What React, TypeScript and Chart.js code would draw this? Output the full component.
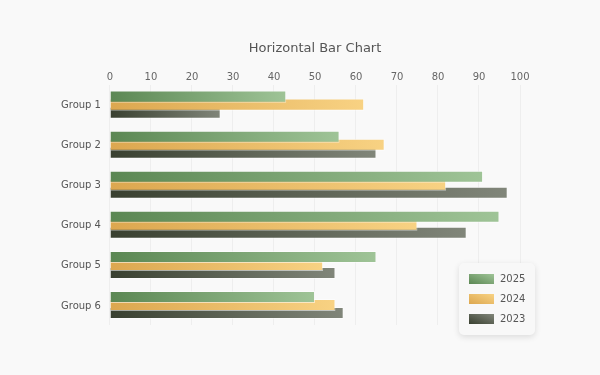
import React, { useEffect, useRef } from "react";
import { Chart, registerables } from "chart.js";

Chart.register(...registerables);

const FONT = "'DejaVu Sans', Verdana, sans-serif";

const categories = ["Group 1", "Group 2", "Group 3", "Group 4", "Group 5", "Group 6"];
const seriesLabels = ["2025", "2024", "2023"];
const values2025 = [43, 56, 91, 95, 65, 50];
const values2024 = [62, 67, 82, 75, 52, 55];
const values2023 = [27, 65, 97, 87, 55, 57];
const xTicksMax = 100;
const xTickStep = 10;
const chartTitle = "Horizontal Bar Chart";

const palettes: [string, string][] = [
  ["#5b8753", "#9fc497"],
  ["#dca74f", "#f8d283"],
  ["#394030", "#81867a"],
];

const CAT_PCT = 0.6;
const BAR_PCT = 1.5;

function makeBg(idx: number) {
  const [dark, light] = palettes[idx];
  return (ctx: any) => {
    try {
      if (ctx.type !== "data") return dark;
      const chart = ctx.chart;
      const xs = chart.scales.x;
      const ys = chart.scales.y;
      if (!xs || !ys) return dark;
      const v = ctx.raw as number;
      const x0 = xs.getPixelForValue(0);
      const x1 = xs.getPixelForValue(v);
      const cy = ys.getPixelForValue(ctx.dataIndex);
      const step = Math.abs(ys.getPixelForValue(1) - ys.getPixelForValue(0));
      const n = 3;
      const pitch = (step * CAT_PCT) / n;
      const c = cy - (step * CAT_PCT) / 2 + pitch * (ctx.datasetIndex + 0.5);
      const h = pitch * BAR_PCT;
      const yTop = c - h / 2;
      const yBot = c + h / 2;
      if (![x0, x1, yTop, yBot].every((q) => Number.isFinite(q))) return dark;
      const g = chart.ctx.createLinearGradient(x0, yBot, x1, yTop);
      g.addColorStop(0, dark);
      g.addColorStop(1, light);
      return g;
    } catch (e) {
      return dark;
    }
  };
}

export default function App() {
  const ref = useRef<HTMLCanvasElement | null>(null);

  useEffect(() => {
    if (!ref.current) return;
    const seriesValues = [values2025, values2024, values2023];
    const chart = new Chart(ref.current, {
      type: "bar",
      data: {
        labels: categories,
        datasets: seriesLabels.map((label, i) => ({
          label,
          data: seriesValues[i],
          backgroundColor: makeBg(i),
          borderColor: "rgba(255,255,255,0.55)",
          borderWidth: 1,
          categoryPercentage: CAT_PCT,
          barPercentage: BAR_PCT,
        })),
      },
      options: {
        indexAxis: "y",
        animation: false,
        responsive: false,
        maintainAspectRatio: false,
        layout: { padding: { left: 52, right: 80, top: 41, bottom: 50 } },
        plugins: {
          legend: { display: false },
          title: { display: false },
          tooltip: { enabled: false },
        },
        scales: {
          x: {
            position: "top",
            min: 0,
            max: xTicksMax,
            ticks: {
              stepSize: xTickStep,
              color: "#666",
              padding: 1,
              font: { family: FONT, size: 10 },
            },
            grid: { color: "#eeeeee", drawTicks: false },
            border: { display: false },
            title: {
              display: true,
              text: chartTitle,
              color: "#555",
              font: { family: FONT, size: 13 },
              padding: { top: 0, bottom: 14 },
            },
          },
          y: {
            grid: { display: false, drawTicks: false },
            border: { display: false },
            ticks: {
              color: "#555",
              padding: 9,
              labelOffset: 1,
              font: { family: FONT, size: 10 },
            },
          },
        },
      },
    });
    return () => chart.destroy();
  }, []);

  return (
    <div
      style={{
        position: "fixed",
        left: 0,
        top: 0,
        width: 600,
        height: 375,
        background: "#f9f9f9",
        fontFamily: FONT,
      }}
    >
      <canvas ref={ref} width={600} height={375} style={{ display: "block", width: 600, height: 375 }} />
      <div
        style={{
          position: "absolute",
          left: 459,
          top: 263,
          width: 76,
          height: 72,
          boxSizing: "border-box",
          background: "#f8f8f8",
          borderRadius: 5,
          boxShadow: "0 2px 6px rgba(0,0,0,0.12)",
          padding: "11px 0 0 10px",
        }}
      >
        {seriesLabels.map((label, i) => (
          <div
            key={label}
            style={{ display: "flex", alignItems: "center", height: 20, marginTop: i === 0 ? -5 : 0 }}
          >
            <div
              style={{
                width: 25,
                height: 10,
                background: `linear-gradient(to top right, ${palettes[i][0]}, ${palettes[i][1]})`,
                marginRight: 6,
              }}
            />
            <span style={{ fontSize: 10, color: "#555", lineHeight: "20px" }}>{label}</span>
          </div>
        ))}
      </div>
    </div>
  );
}
